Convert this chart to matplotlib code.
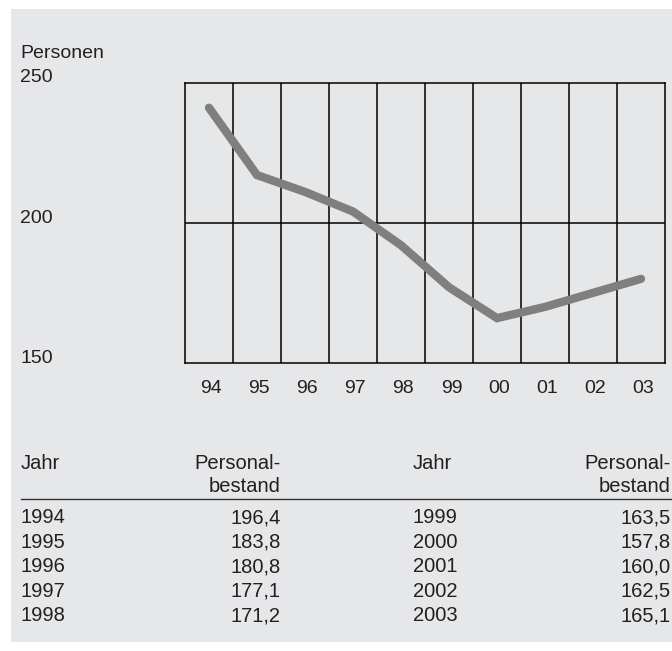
import matplotlib
matplotlib.use("Agg")
import matplotlib.pyplot as plt
from matplotlib.patches import Rectangle
from matplotlib.transforms import blended_transform_factory

# ---- data ----
year_labels = ["94", "95", "96", "97", "98", "99", "00", "01", "02", "03"]
line_values = [241, 217, 211, 204, 192, 177, 166, 170, 175, 180]  # as drawn on the chart
y_ticks = [150, 200, 250]
y_title = "Personen"

table_years_left = ["1994", "1995", "1996", "1997", "1998"]
table_values_left = ["196,4", "183,8", "180,8", "177,1", "171,2"]
table_years_right = ["1999", "2000", "2001", "2002", "2003"]
table_values_right = ["163,5", "157,8", "160,0", "162,5", "165,1"]
col_header_year = "Jahr"
col_header_value = ["Personal-", "bestand"]

# ---- layout helpers ----
W, H = 672, 651
BG = "#e6e7e9"
FONT = "Liberation Sans"
FS = 14
TXT = "#231f20"

def fx(px):
    return px / W

def fy(py):
    return 1 - py / H

fig = plt.figure(figsize=(W / 100, H / 100), dpi=100)
fig.patch.set_facecolor("white")
bg = Rectangle((fx(11), fy(642)), 1 - fx(11), fy(9) - fy(642),
               transform=fig.transFigure, facecolor=BG,
               edgecolor="none", zorder=-10)
fig.patches.append(bg)

# plot box: x 185..665, y 82.5..363
ax = fig.add_axes([fx(185), fy(363), fx(665) - fx(185), fy(82.5) - fy(363)])
ax.set_zorder(5)
ax.set_facecolor(BG)
ax.set_xlim(-0.5, len(year_labels) - 0.5)
ax.set_ylim(150, 250)
for s in ax.spines.values():
    s.set_linewidth(1.1)
    s.set_color("black")
ax.set_xticks([])
ax.set_yticks([])
for k in range(len(year_labels) - 1):
    ax.axvline(k + 0.5, color="black", lw=1.1, zorder=1)
ax.axhline(200, color="black", lw=1.1, zorder=1)

xs = list(range(len(year_labels)))
ax.plot(xs, line_values, color="#7f7f7f", lw=6, solid_capstyle="round",
        solid_joinstyle="miter", zorder=3)

# y labels (left of figure) aligned to data
ty = blended_transform_factory(fig.transFigure, ax.transData)
for v in y_ticks:
    ax.text(fx(20), v, str(v), transform=ty, ha="left", va="baseline",
            fontsize=FS, family=FONT, color=TXT, clip_on=False)
fig.text(fx(20), fy(58), y_title, ha="left", va="baseline",
         fontsize=FS, family=FONT, color=TXT)

# x labels
tx = blended_transform_factory(ax.transData, fig.transFigure)
for i, lab in enumerate(year_labels):
    ax.text(i + 0.05, fy(393), lab, transform=tx, ha="center", va="baseline",
            fontsize=FS, family=FONT, color=TXT, clip_on=False)

# ---- table ----
x_c1, x_c2, x_c3, x_c4 = 21, 281, 413, 671
hdr1, hdr2, rule = 469, 492, 499
row0, row_step = 523, 24.6
TFS = 14.5

def t(x, y, s, ha):
    fig.text(fx(x), fy(y), s, ha=ha, va="baseline", fontsize=TFS,
             family=FONT, color=TXT)

t(x_c1, hdr1, col_header_year, "left")
t(x_c2, hdr1, col_header_value[0], "right")
t(x_c2, hdr2, col_header_value[1], "right")
t(x_c3, hdr1, col_header_year, "left")
t(x_c4, hdr1, col_header_value[0], "right")
t(x_c4, hdr2, col_header_value[1], "right")
fig.add_artist(plt.Line2D([fx(21), 1], [fy(rule), fy(rule)],
                          transform=fig.transFigure, color="#333333", lw=1.0))
for i in range(len(table_years_left)):
    y = row0 + i * row_step
    t(x_c1, y, table_years_left[i], "left")
    t(x_c2, y, table_values_left[i], "right")
    t(x_c3, y, table_years_right[i], "left")
    t(x_c4, y, table_values_right[i], "right")

fig.savefig("out.png", dpi=100, facecolor=fig.get_facecolor())
